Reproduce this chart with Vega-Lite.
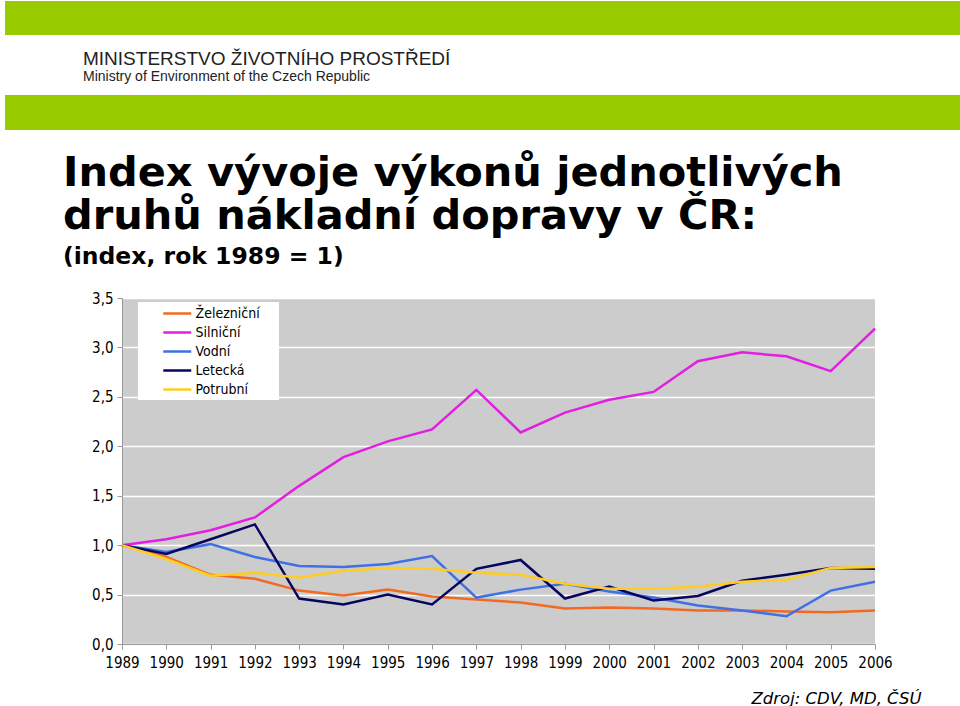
{
  "$schema": "https://vega.github.io/schema/vega-lite/v6.json",
  "padding": {"left": 5, "top": 1, "right": 0, "bottom": 0},
  "autosize": {"type": "pad"},
  "background": "white",
  "config": {"view": {"stroke": null}, "font": "DejaVu Sans"},
  "spacing": 0,
  "bounds": "flush",
  "vconcat": [
    {"width": 955, "height": 34, "view": {"fill": "#99CC00"}, "data": {"values": []}, "mark": "rect", "encoding": {}},
    {"width": 955, "height": 60, "data": {"values": []}, "mark": "rect", "encoding": {}},
    {
      "width": 955, "height": 35, "view": {"fill": "#99CC00"}, "data": {"values": []}, "mark": "rect", "encoding": {},
      "title": {
        "text": "MINISTERSTVO ŽIVOTNÍHO PROSTŘEDÍ",
        "subtitle": "Ministry of Environment of the Czech Republic",
        "anchor": "start", "frame": "group", "dx": 78, "offset": 11,
        "font": "Liberation Sans", "fontSize": 19, "fontWeight": "normal", "color": "#222222",
        "subtitleFont": "Liberation Sans", "subtitleFontSize": 14, "subtitleColor": "#222222", "subtitlePadding": 1
      }
    },
    {"width": 955, "height": 168, "data": {"values": []}, "mark": "rect", "encoding": {}},
    {
      "spacing": 0,
      "bounds": "flush",
      "hconcat": [
        {"width": 117, "height": 346, "data": {"values": []}, "mark": "rect", "encoding": {}},
        {
          "width": 753,
          "height": 346,
          "view": {"fill": "#CCCCCC"},
          "title": {
            "text": ["Index vývoje výkonů jednotlivých", "druhů nákladní dopravy v ČR:"],
            "subtitle": "(index, rok 1989 = 1)",
            "anchor": "start", "frame": "group", "dx": -59, "offset": 23,
            "font": "DejaVu Sans", "fontSize": 41.5, "fontWeight": "bold", "lineHeight": 43, "color": "black",
            "subtitleFont": "DejaVu Sans", "subtitleFontSize": 23.5, "subtitleFontWeight": "bold", "subtitleColor": "black", "subtitlePadding": 7
          },
          "data": {"values": [
            {"rok": "1989", "druh": "Železniční", "index": 1.00},
            {"rok": "1990", "druh": "Železniční", "index": 0.88},
            {"rok": "1991", "druh": "Železniční", "index": 0.70},
            {"rok": "1992", "druh": "Železniční", "index": 0.66},
            {"rok": "1993", "druh": "Železniční", "index": 0.54},
            {"rok": "1994", "druh": "Železniční", "index": 0.49},
            {"rok": "1995", "druh": "Železniční", "index": 0.55},
            {"rok": "1996", "druh": "Železniční", "index": 0.48},
            {"rok": "1997", "druh": "Železniční", "index": 0.45},
            {"rok": "1998", "druh": "Železniční", "index": 0.42},
            {"rok": "1999", "druh": "Železniční", "index": 0.36},
            {"rok": "2000", "druh": "Železniční", "index": 0.37},
            {"rok": "2001", "druh": "Železniční", "index": 0.36},
            {"rok": "2002", "druh": "Železniční", "index": 0.34},
            {"rok": "2003", "druh": "Železniční", "index": 0.34},
            {"rok": "2004", "druh": "Železniční", "index": 0.33},
            {"rok": "2005", "druh": "Železniční", "index": 0.32},
            {"rok": "2006", "druh": "Železniční", "index": 0.34},
            {"rok": "1989", "druh": "Silniční", "index": 1.00},
            {"rok": "1990", "druh": "Silniční", "index": 1.06},
            {"rok": "1991", "druh": "Silniční", "index": 1.15},
            {"rok": "1992", "druh": "Silniční", "index": 1.28},
            {"rok": "1993", "druh": "Silniční", "index": 1.60},
            {"rok": "1994", "druh": "Silniční", "index": 1.89},
            {"rok": "1995", "druh": "Silniční", "index": 2.05},
            {"rok": "1996", "druh": "Silniční", "index": 2.17},
            {"rok": "1997", "druh": "Silniční", "index": 2.57},
            {"rok": "1998", "druh": "Silniční", "index": 2.14},
            {"rok": "1999", "druh": "Silniční", "index": 2.34},
            {"rok": "2000", "druh": "Silniční", "index": 2.47},
            {"rok": "2001", "druh": "Silniční", "index": 2.55},
            {"rok": "2002", "druh": "Silniční", "index": 2.86},
            {"rok": "2003", "druh": "Silniční", "index": 2.95},
            {"rok": "2004", "druh": "Silniční", "index": 2.91},
            {"rok": "2005", "druh": "Silniční", "index": 2.76},
            {"rok": "2006", "druh": "Silniční", "index": 3.19},
            {"rok": "1989", "druh": "Vodní", "index": 1.00},
            {"rok": "1990", "druh": "Vodní", "index": 0.93},
            {"rok": "1991", "druh": "Vodní", "index": 1.01},
            {"rok": "1992", "druh": "Vodní", "index": 0.88},
            {"rok": "1993", "druh": "Vodní", "index": 0.79},
            {"rok": "1994", "druh": "Vodní", "index": 0.78},
            {"rok": "1995", "druh": "Vodní", "index": 0.81},
            {"rok": "1996", "druh": "Vodní", "index": 0.89},
            {"rok": "1997", "druh": "Vodní", "index": 0.47},
            {"rok": "1998", "druh": "Vodní", "index": 0.55},
            {"rok": "1999", "druh": "Vodní", "index": 0.61},
            {"rok": "2000", "druh": "Vodní", "index": 0.53},
            {"rok": "2001", "druh": "Vodní", "index": 0.47},
            {"rok": "2002", "druh": "Vodní", "index": 0.39},
            {"rok": "2003", "druh": "Vodní", "index": 0.34},
            {"rok": "2004", "druh": "Vodní", "index": 0.28},
            {"rok": "2005", "druh": "Vodní", "index": 0.54},
            {"rok": "2006", "druh": "Vodní", "index": 0.63},
            {"rok": "1989", "druh": "Letecká", "index": 1.00},
            {"rok": "1990", "druh": "Letecká", "index": 0.91},
            {"rok": "1991", "druh": "Letecká", "index": 1.06},
            {"rok": "1992", "druh": "Letecká", "index": 1.21},
            {"rok": "1993", "druh": "Letecká", "index": 0.46},
            {"rok": "1994", "druh": "Letecká", "index": 0.40},
            {"rok": "1995", "druh": "Letecká", "index": 0.50},
            {"rok": "1996", "druh": "Letecká", "index": 0.40},
            {"rok": "1997", "druh": "Letecká", "index": 0.76},
            {"rok": "1998", "druh": "Letecká", "index": 0.85},
            {"rok": "1999", "druh": "Letecká", "index": 0.46},
            {"rok": "2000", "druh": "Letecká", "index": 0.58},
            {"rok": "2001", "druh": "Letecká", "index": 0.44},
            {"rok": "2002", "druh": "Letecká", "index": 0.485},
            {"rok": "2003", "druh": "Letecká", "index": 0.64},
            {"rok": "2004", "druh": "Letecká", "index": 0.70},
            {"rok": "2005", "druh": "Letecká", "index": 0.77},
            {"rok": "2006", "druh": "Letecká", "index": 0.76},
            {"rok": "1989", "druh": "Potrubní", "index": 1.00},
            {"rok": "1990", "druh": "Potrubní", "index": 0.86},
            {"rok": "1991", "druh": "Potrubní", "index": 0.69},
            {"rok": "1992", "druh": "Potrubní", "index": 0.72},
            {"rok": "1993", "druh": "Potrubní", "index": 0.67},
            {"rok": "1994", "druh": "Potrubní", "index": 0.74},
            {"rok": "1995", "druh": "Potrubní", "index": 0.77},
            {"rok": "1996", "druh": "Potrubní", "index": 0.76},
            {"rok": "1997", "druh": "Potrubní", "index": 0.72},
            {"rok": "1998", "druh": "Potrubní", "index": 0.70},
            {"rok": "1999", "druh": "Potrubní", "index": 0.61},
            {"rok": "2000", "druh": "Potrubní", "index": 0.56},
            {"rok": "2001", "druh": "Potrubní", "index": 0.56},
            {"rok": "2002", "druh": "Potrubní", "index": 0.58},
            {"rok": "2003", "druh": "Potrubní", "index": 0.63},
            {"rok": "2004", "druh": "Potrubní", "index": 0.65},
            {"rok": "2005", "druh": "Potrubní", "index": 0.77},
            {"rok": "2006", "druh": "Potrubní", "index": 0.78}
          ]},
          "mark": {"type": "line"},
          "encoding": {
            "x": {
              "field": "rok", "type": "ordinal",
              "scale": {"type": "point", "padding": 0},
              "axis": {
                "title": "Zdroj: CDV, MD, ČSÚ",
                "titleFont": "DejaVu Sans", "titleFontStyle": "italic", "titleFontWeight": "normal",
                "titleFontSize": 16.5, "titleColor": "black",
                "titleX": 799, "titleY": 59, "titleAlign": "right", "titleBaseline": "alphabetic",
                "labelAngle": 0, "grid": false,
                "domainColor": "#999999", "tickColor": "#999999", "tickSize": 5,
                "labelPadding": 6, "labelFont": "DejaVu Sans Condensed, DejaVu Sans", "labelFontSize": 15, "labelColor": "black"
              }
            },
            "y": {
              "field": "index", "type": "quantitative",
              "scale": {"domain": [0, 3.5]},
              "axis": {
                "values": [0, 0.5, 1, 1.5, 2, 2.5, 3, 3.5],
                "labelExpr": "replace(format(datum.value, '.1f'), '.', ',')",
                "title": null, "grid": true, "gridColor": "white", "gridWidth": 1.5,
                "domainColor": "#999999", "tickColor": "#999999", "tickSize": 5,
                "labelPadding": 4, "labelFont": "DejaVu Sans Condensed, DejaVu Sans", "labelFontSize": 15, "labelColor": "black"
              }
            },
            "color": {
              "field": "druh", "type": "nominal",
              "scale": {
                "domain": ["Železniční", "Silniční", "Vodní", "Letecká", "Potrubní"],
                "range": ["#F26A22", "#E21EE0", "#4070E6", "#06065E", "#FFCC22"]
              },
              "legend": {
                "orient": "none", "legendX": 133, "legendY": 301, "title": null,
                "fillColor": "white", "padding": 3,
                "symbolType": "M-2,0H2", "symbolSize": 196, "symbolStrokeWidth": 2.5,
                "symbolOffset": 27.75, "labelOffset": 9.75, "rowPadding": 3,
                "labelFont": "DejaVu Sans Condensed, DejaVu Sans", "labelFontSize": 14, "labelColor": "black",
                "labelExpr": "datum.label + '\u00a0\u00a0\u00a0\u00a0\u200b'"
              }
            },
            "strokeWidth": {
              "field": "druh", "type": "nominal",
              "scale": {
                "domain": ["Železniční", "Silniční", "Vodní", "Letecká", "Potrubní"],
                "range": [2.5, 2.5, 2.5, 2.5, 4]
              },
              "legend": null
            }
          }
        }
      ]
    }
  ]
}
